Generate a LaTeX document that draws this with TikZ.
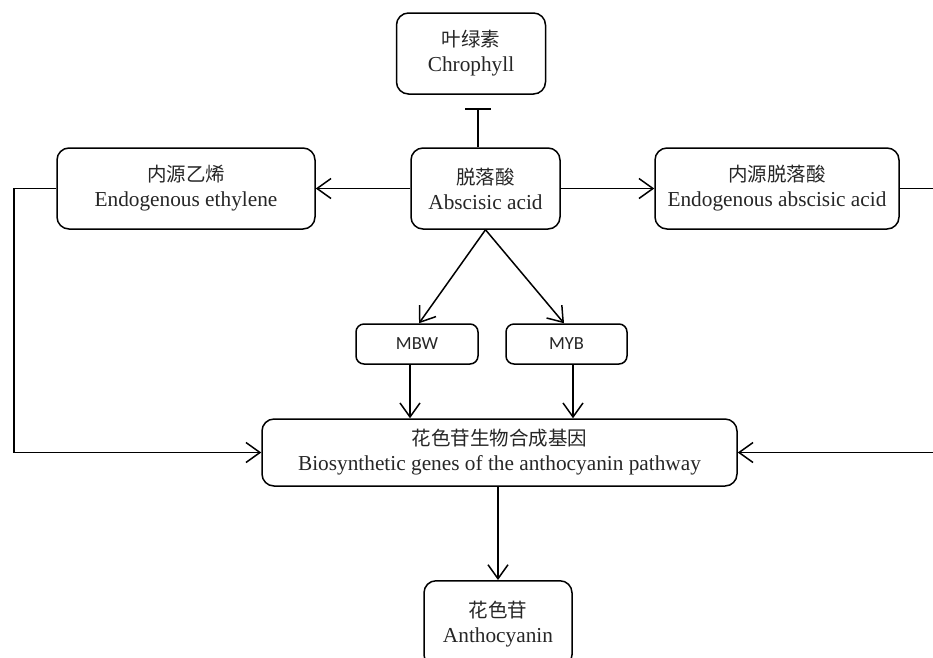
\documentclass[tikz,border=0pt]{standalone}
\usepackage{fontspec}
\setmainfont{Liberation Serif}
\newfontfamily\cjk{Noto Sans CJK SC}
\newfontfamily\calfont{Carlito}
\usetikzlibrary{arrows.meta}
\begin{document}
\begin{tikzpicture}[x=1pt,y=-1pt,
  line width=1.5pt,
  box/.style={draw, rounded corners=12pt, inner sep=0pt, align=center,
    text=black!85, font=\fontsize{21.3}{25}\selectfont},
  smallbox/.style={draw, rounded corners=8pt, inner sep=0pt, align=center,
    text=black!85, font=\calfont\fontsize{18.5}{20}\selectfont},
  arr/.style={-{Straight Barb[length=14pt,width=20pt]}},
  inh/.style={-{Bar[width=26pt]}}]
\useasboundingbox (0,0) rectangle (933,657);
\clip (0,0) rectangle (933,657);
\newcommand{\zh}[1]{{\cjk\fontsize{19.5}{25}\selectfont #1}}
\node[box, minimum width=149pt, minimum height=81pt] (chl) at (471,53.5) {\zh{叶绿素}\\Chrophyll};
\node[box, minimum width=149pt, minimum height=81pt] (aba) at (485.5,188.5) {\zh{脱落酸}\\Abscisic acid};
\node[box, minimum width=258pt, minimum height=81pt] (eth) at (186,188.5) {\zh{内源乙烯}\\Endogenous ethylene};
\node[box, minimum width=244pt, minimum height=81pt] (eaba) at (777,188.5) {\zh{内源脱落酸}\\Endogenous abscisic acid};
\node[smallbox, minimum width=122pt, minimum height=40pt] (mbw) at (417,344) {MBW};
\node[smallbox, minimum width=121pt, minimum height=40pt] (myb) at (566.5,344) {MYB};
\node[box, minimum width=475pt, minimum height=67pt] (gen) at (499.5,452.5) {\zh{花色苷生物合成基因}\\Biosynthetic genes of the anthocyanin pathway};
\node[box, minimum width=148pt, minimum height=86pt, anchor=north] (antho) at (498,580) {\zh{花色苷}\\Anthocyanin};
\coordinate (inhend) at (478,108);
\coordinate (l1) at (14,188.5);
\coordinate (l2) at (14,452.5);
\coordinate (r1) at (945,188.5);
\coordinate (r2) at (945,452.5);
\draw[inh] ([xshift=-7.5pt]aba.north) -- (inhend);
\draw[arr] (aba.west) -- (eth.east);
\draw[arr] (aba.east) -- (eaba.west);
\draw[arr] (aba.south) -- ([xshift=2pt]mbw.north);
\draw[arr] (aba.south) -- ([xshift=-2.5pt]myb.north);
\draw[arr] ([xshift=-7pt]mbw.south) -- ([xshift=-7pt]mbw.south |- gen.north);
\draw[arr] ([xshift=6.5pt]myb.south) -- ([xshift=6.5pt]myb.south |- gen.north);
\draw[arr] (antho.north |- gen.south) -- (antho.north);
\draw[arr] (eth.west) -- (l1) -- (l2) -- (gen.west);
\draw[arr] (eaba.east) -- (r1) -- (r2) -- (gen.east);
\end{tikzpicture}
\end{document}
